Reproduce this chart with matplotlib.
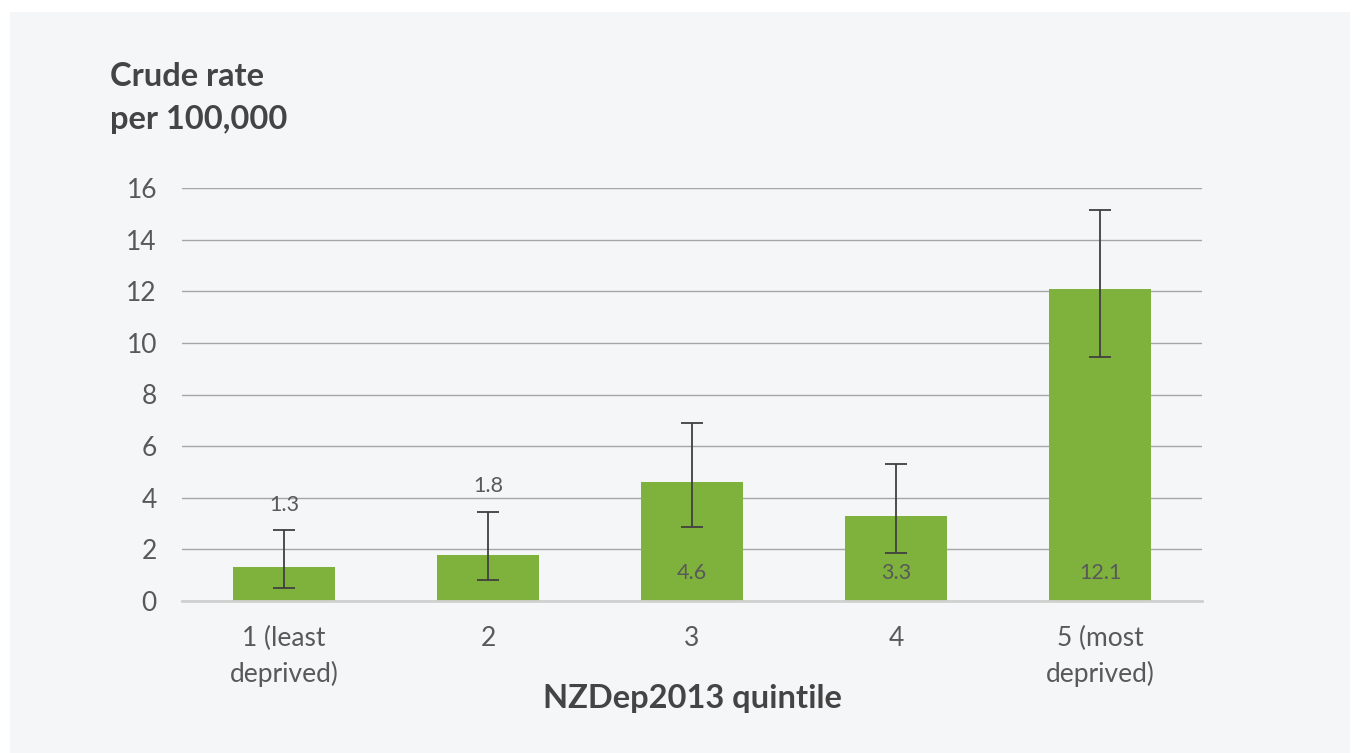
import numpy as np
import matplotlib.pyplot as plt
from matplotlib.patches import Rectangle

# Data
categories = ['1 (least\ndeprived)', '2', '3', '4', '5 (most\ndeprived)']
rates = [1.3, 1.8, 4.6, 3.3, 12.1]
ci_low = [0.5, 0.8, 2.87, 1.86, 9.47]
ci_high = [2.75, 3.45, 6.9, 5.3, 15.15]
labels_above = [True, True, False, False, False]

green = '#7fb13d'
text_col = '#595959'

plt.rcParams['font.family'] = ['Lato', 'DejaVu Sans']

fig = plt.figure(figsize=(13.6, 7.53), dpi=100, facecolor='white')
fig.patches.append(Rectangle((10 / 1360, 0), 1340 / 1360, 741 / 753,
                             transform=fig.transFigure, facecolor='#f5f6f8',
                             edgecolor='none', zorder=-10))

ax = fig.add_axes([182 / 1360, 152 / 753, 1020 / 1360, 413 / 753])
ax.set_facecolor('none')

x = np.arange(len(categories))
rates_a = np.array(rates)
yerr = [rates_a - np.array(ci_low), np.array(ci_high) - rates_a]

ax.bar(x, rates, width=0.5, color=green, zorder=2)
ax.errorbar(x, rates, yerr=yerr, fmt='none', ecolor='#404040', elinewidth=1.3,
            capsize=8, capthick=1.3, zorder=3)

for i, v in enumerate(rates):
    if labels_above[i]:
        ax.text(x[i], ci_high[i] + 0.6, f'{v:.1f}', ha='center', va='bottom',
                fontsize=15.5, color=text_col)
    else:
        ax.text(x[i], 1.1, f'{v:.1f}', ha='center', va='center',
                fontsize=15.5, color=text_col)

ax.set_xlim(-0.5, 4.5)
ax.set_ylim(0, 16)
ax.set_yticks(np.arange(0, 17, 2))
ax.set_xticks(x)
ax.set_xticklabels(categories)
ax.yaxis.grid(True, color='#a6a6a6', linewidth=1)
ax.set_axisbelow(True)
for s in ['top', 'right', 'left']:
    ax.spines[s].set_visible(False)
ax.spines['bottom'].set_color('#d0d0d0')
ax.spines['bottom'].set_linewidth(2)
ax.tick_params(axis='both', length=0, labelsize=19, colors=text_col)
ax.tick_params(axis='y', pad=18)
ax.tick_params(axis='x', pad=18)
for t in ax.get_xticklabels():
    t.set_linespacing(1.45)

ax.set_xlabel('NZDep2013 quintile', fontsize=23.5, fontweight='bold',
              color='#444444', labelpad=-2)

fig.text(110 / 1360, 1 - 62 / 753, 'Crude rate\nper 100,000', fontsize=23.5,
         fontweight='bold', color='#444444', va='top', ha='left',
         linespacing=1.6)

fig.savefig('out.png', dpi=100, facecolor=fig.get_facecolor())
